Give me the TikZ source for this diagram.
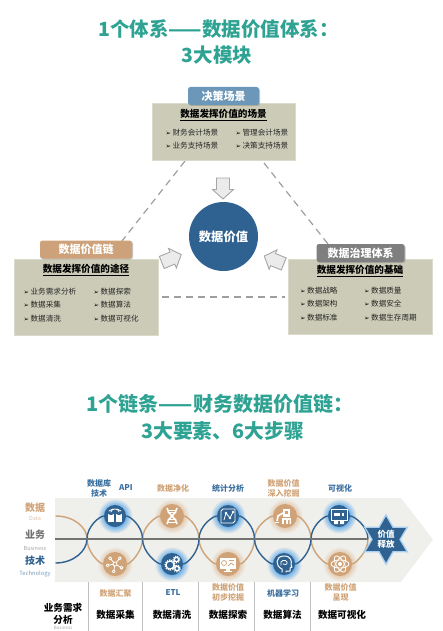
\documentclass[tikz,border=0pt]{standalone}
\usepackage{fontspec}
\setmainfont{Noto Sans CJK SC}
\newfontfamily\dejafont{DejaVu Sans}
\usetikzlibrary{shapes.geometric,shadows}
\definecolor{teal1}{HTML}{2FA393}
\definecolor{boxc}{HTML}{CBCBB7}
\definecolor{tagb}{HTML}{6C97B8}
\definecolor{tagt}{HTML}{CDA27A}
\definecolor{tagg}{HTML}{7F7F7F}
\definecolor{navy1}{HTML}{2F6290}
\definecolor{tan1}{HTML}{CFA377}
\definecolor{tan2}{HTML}{DDBFA2}
\definecolor{band}{HTML}{EFEFEB}
\definecolor{glowb}{HTML}{6FB0E8}
\definecolor{glowt}{HTML}{E2C5A8}
\definecolor{bluetxt}{HTML}{3A6F9E}
\pgfdeclareradialshading{blueglow}{\pgfpoint{0bp}{0bp}}{color(0bp)=(glowb); color(15bp)=(glowb); color(25bp)=(band); color(50bp)=(band)}
\pgfdeclareradialshading{tanglow}{\pgfpoint{0bp}{0bp}}{color(0bp)=(glowt); color(15bp)=(glowt); color(25bp)=(band); color(50bp)=(band)}
\pgfdeclarelayer{bg}
\pgfsetlayers{bg,main}
\newcommand{\itm}[1]{{\dejafont\fontsize{6.5}{7}\selectfont\color{black}➢}\hspace{1.5pt}#1}
\tikzset{
 titletxt/.style={text=teal1,font=\bfseries\fontsize{19.5}{23}\selectfont,inner sep=0},
 infobox/.style={fill=boxc,draw=boxc!70!white,line width=.4pt,minimum width=#1,inner sep=0},
 tagbox/.style={rounded corners=2.5pt,text=white,font=\bfseries\fontsize{11}{13}\selectfont,inner sep=0,drop shadow={opacity=.45,shadow xshift=1pt,shadow yshift=-1pt}},
 boxhead/.style={text=black,font=\bfseries\fontsize{9.6}{11}\selectfont,inner sep=0},
 itemtxt/.style={text=black!85,font=\fontsize{7.6}{9}\selectfont,inner sep=0,anchor=west},
 guide/.style={draw=black!38,line width=1.2pt,dash pattern=on 7pt off 5pt},
 flowarrow/.style={draw=black!35,fill=black!8,line width=.9pt,line join=miter},
 bicon/.style={circle,fill=navy1,minimum size=22pt,inner sep=0},
 ticon/.style={circle,fill=tan1,minimum size=24pt,inner sep=0},
 wave/.style={line width=1.4pt},
 toplab/.style={font=\fontsize{8}{10}\selectfont\bfseries,inner sep=0,align=center},
 steplab/.style={font=\fontsize{9.6}{12}\selectfont\bfseries,text=black,inner sep=0,align=center},
 ic/.style={draw=white,line width=.8pt,line cap=round,line join=round},
 sepline/.style={draw=black!25,line width=1pt}
}
\newcommand{\fatarrow}{(-10.5,-6.5) -- (1,-6.5) -- (1,-10.5) -- (10.5,0) -- (1,10.5) -- (1,6.5) -- (-10.5,6.5) -- cycle}
\begin{document}
\begin{tikzpicture}[x=1pt,y=-1pt]
\useasboundingbox (0,0) rectangle (442,631);
% titles
\node[titletxt] (t1) at (218.5,29) {1个体系——数据价值体系：};
\node[titletxt] (t2) at (217,55) {3大模块};
\node[titletxt,font=\bfseries\fontsize{20}{23}\selectfont] (t3) at (220,404) {1个链条——财务数据价值链：};
\node[titletxt,font=\bfseries\fontsize{19.8}{23}\selectfont] (t4) at (222.5,431) {3大要素、6大步骤};
% dashes
\coordinate (dA) at (185,161);
\coordinate (dB) at (122,241);
\coordinate (dC) at (264,163);
\coordinate (dD) at (328,244);
\coordinate (dE) at (162,297);
\coordinate (dF) at (285,297);
\draw[guide] (dA) -- (dB);
\draw[guide] (dC) -- (dD);
\draw[guide] (dE) -- (dF);
% top box
\node[infobox=143.5pt,minimum height=57pt] (bt) at (223.5,131.5) {};
\node[tagbox,fill=tagb,minimum width=71pt,minimum height=18pt] (tt) at (223.5,96) {决策场景};
\node[boxhead] (ht) at (223.5,115) {\underline{数据发挥价值的场景}};
\node[itemtxt] (it1) at (165.5,133) {\itm{财务会计场景}};
\node[itemtxt] (it2) at (235.5,133) {\itm{管理会计场景}};
\node[itemtxt] (it3) at (165.5,146) {\itm{业务支持场景}};
\node[itemtxt] (it4) at (235.5,146) {\itm{决策支持场景}};
% left box
\node[infobox=144pt,minimum height=76pt] (bl) at (86,297) {};
\node[tagbox,fill=tagt,minimum width=92pt,minimum height=18pt] (tl) at (86,249.5) {数据价值链};
\node[boxhead] (hl) at (86,270) {\underline{数据发挥价值的途径}};
\node[itemtxt] (il1) at (23.5,291.5) {\itm{业务需求分析}};
\node[itemtxt] (il2) at (93.5,291.5) {\itm{数据探索}};
\node[itemtxt] (il3) at (23.5,305) {\itm{数据采集}};
\node[itemtxt] (il4) at (93.5,305) {\itm{数据算法}};
\node[itemtxt] (il5) at (23.5,318.5) {\itm{数据清洗}};
\node[itemtxt] (il6) at (93.5,318.5) {\itm{数据可视化}};
% right box
\node[infobox=144pt,minimum height=75pt] (br) at (360,296.5) {};
\node[tagbox,fill=tagg,minimum width=88pt,minimum height=18pt] (tr) at (360.5,253) {数据治理体系};
\node[boxhead] (hr) at (360,271) {\underline{数据发挥价值的基础}};
\node[itemtxt] (ir1) at (300,291) {\itm{数据战略}};
\node[itemtxt] (ir2) at (364,291) {\itm{数据质量}};
\node[itemtxt] (ir3) at (300,304) {\itm{数据架构}};
\node[itemtxt] (ir4) at (364,304) {\itm{数据安全}};
\node[itemtxt] (ir5) at (300,318) {\itm{数据标准}};
\node[itemtxt] (ir6) at (364,318) {\itm{数据生存周期}};
% centre
\node[circle,fill=navy1,minimum size=69pt,inner sep=0,text=white,font=\bfseries\fontsize{12.3}{14}\selectfont] (core) at (223.5,236.5) {数据价值};
\begin{scope}[shift={(223,188.5)},rotate=-90]
\draw[flowarrow] \fatarrow;
\end{scope}
\begin{scope}[shift={(171.5,258.5)},rotate=22]
\draw[flowarrow] \fatarrow;
\end{scope}
\begin{scope}[shift={(274,260)},rotate=158]
\draw[flowarrow] \fatarrow;
\end{scope}
% left labels
\node[text=tan1,font=\bfseries\fontsize{10}{12}\selectfont,inner sep=0] (l1) at (35,508) {数据};
\node[text=tan2,font=\fontsize{5.5}{6}\selectfont,inner sep=0] (l1e) at (35,518.5) {Data};
\node[text=black!55,font=\bfseries\fontsize{10}{12}\selectfont,inner sep=0] (l2) at (35,535) {业务};
\node[text=black!35,font=\fontsize{5.5}{6}\selectfont,inner sep=0] (l2e) at (35,548.5) {Business};
\node[text=navy1,font=\bfseries\fontsize{10}{12}\selectfont,inner sep=0] (l3) at (35,561) {技术};
\node[text=bluetxt!70,font=\fontsize{5.8}{6}\selectfont,inner sep=0] (l3e) at (35,574) {Technology};
% icon nodes
\node[bicon] (u1) at (115,516) {};
\node[ticon] (u2) at (172,516) {};
\node[bicon] (u3) at (228,516) {};
\node[ticon] (u4) at (285,516) {};
\node[bicon] (u5) at (339,516) {};
\node[ticon] (d1) at (115,564) {};
\node[bicon] (d2) at (172,564) {};
\node[ticon] (d3) at (228,564) {};
\node[bicon] (d4) at (284,564) {};
\node[ticon] (d5) at (340,564) {};
\coordinate (c1) at (87,539);
\coordinate (c2) at (142.5,539);
\coordinate (c3) at (199,539);
\coordinate (c4) at (254.5,539);
\coordinate (c5) at (311,539);
\coordinate (c6) at (368,539);
\coordinate (eb) at (55.5,563);
\coordinate (et) at (55.5,516);
\coordinate (ls) at (55,539);
\begin{pgfonlayer}{bg}
\fill[band] (55,498) -- (401,498) -- (433,539.5) -- (401,582) -- (55,582) -- cycle;
\foreach \n in {u1,u3,u5,d2,d4} {\shade[shading=blueglow] (\n) circle (17.5pt);}
\foreach \n in {u2,u4,d1,d3,d5} {\shade[shading=tanglow] (\n) circle (17.5pt);}
% tan strand
\draw[wave,tan1] (et) .. controls +(18,0) and +(0,-12) .. (c1);
\draw[wave,tan1] (c1) .. controls +(0,13) and +(-15,0) .. (d1);
\draw[wave,tan1] (d1) .. controls +(15,0) and +(0,13) .. (c2);
\draw[wave,tan1] (c2) .. controls +(0,-13) and +(-15,0) .. (u2);
\draw[wave,tan1] (u2) .. controls +(15,0) and +(0,-13) .. (c3);
\draw[wave,tan1] (c3) .. controls +(0,13) and +(-15,0) .. (d3);
\draw[wave,tan1] (d3) .. controls +(15,0) and +(0,13) .. (c4);
\draw[wave,tan1] (c4) .. controls +(0,-13) and +(-15,0) .. (u4);
\draw[wave,tan1] (u4) .. controls +(15,0) and +(0,-13) .. (c5);
\draw[wave,tan1] (c5) .. controls +(0,13) and +(-15,0) .. (d5);
\draw[wave,tan1] (d5) .. controls +(15,0) and +(0,13) .. (c6);
% blue strand
\draw[wave,navy1] (eb) .. controls +(18,0) and +(0,12) .. (c1);
\draw[wave,navy1] (c1) .. controls +(0,-13) and +(-15,0) .. (u1);
\draw[wave,navy1] (u1) .. controls +(15,0) and +(0,-13) .. (c2);
\draw[wave,navy1] (c2) .. controls +(0,13) and +(-15,0) .. (d2);
\draw[wave,navy1] (d2) .. controls +(15,0) and +(0,13) .. (c3);
\draw[wave,navy1] (c3) .. controls +(0,-13) and +(-15,0) .. (u3);
\draw[wave,navy1] (u3) .. controls +(15,0) and +(0,-13) .. (c4);
\draw[wave,navy1] (c4) .. controls +(0,13) and +(-15,0) .. (d4);
\draw[wave,navy1] (d4) .. controls +(15,0) and +(0,13) .. (c5);
\draw[wave,navy1] (c5) .. controls +(0,-13) and +(-15,0) .. (u5);
\draw[wave,navy1] (u5) .. controls +(15,0) and +(0,-13) .. (c6);
\draw[black!55,line width=2pt] (ls) -- (c6);
\end{pgfonlayer}
% star
\node[star,star points=6,star point ratio=1.75,minimum size=50pt,inner sep=0,fill=glowb!60,draw=glowb!60,line width=1pt] (sg) at (386,539.5) {};
\node[star,star points=6,star point ratio=1.75,minimum size=46pt,inner sep=0,fill=navy1,text=white] (st) at (386,539.5) {};
\node[text=white,font=\bfseries\fontsize{8.5}{10.5}\selectfont,align=center,inner sep=0] (stx) at (386,539.5) {价值\\释放};
% icons
\begin{scope}[shift={(u1)}]
\fill[white] (-7,-2) rectangle (-1,6); \fill[white] (1,-2) rectangle (7,6);
\fill[navy1] (-4,-2) ellipse (2 and 1); \fill[navy1] (4,-2) ellipse (2 and 1);
\draw[ic] (-4,-4) .. controls (-4,-8) and (4,-8) .. (4,-4);
\draw[ic] (-6,-5) -- (-2,-7); \draw[ic] (6,-5) -- (2,-7);
\end{scope}
\begin{scope}[shift={(d1)}]
\draw[ic] (0,0) circle (2);
\foreach \a in {30,100,170,230,310} {\draw[ic] (\a:2) -- (\a:6); \draw[ic] (\a:7.5) circle (1.5);}
\end{scope}
\begin{scope}[shift={(u2)}]
\draw[white,line width=1.6pt] (-5,-8) .. controls (-5,-2) and (5,2) .. (5,8);
\draw[white,line width=1.6pt] (5,-8) .. controls (5,-2) and (-5,2) .. (-5,8);
\foreach \y in {-6,-3.5,3.5,6} {\draw[ic] (-4,\y) -- (4,\y);}
\end{scope}
\begin{scope}[shift={(d2)}]
\foreach \p/\r in {{(-2,1)}/4,{(4.5,-4.5)}/2.2,{(5,4.5)}/2.2} {
 \draw[white,line width=1.2pt] \p circle (\r);
 \draw[white,line width=1.4pt,dash pattern=on 1.1pt off 1.1pt] \p circle (\r+1);
}
\end{scope}
\begin{scope}[shift={(u3)}]
\draw[ic] (-7,-5) -- (-5,-7) -- (7,-7) -- (7,5) -- (5,7) -- (-7,7) -- cycle;
\draw[ic] (-4,4) -- (-2,-3) -- (2,2) -- (5,-4);
\fill[white] (-2,-3) circle (1.3) (2,2) circle (1.3) (5,-4) circle (1.3);
\end{scope}
\begin{scope}[shift={(d3)}]
\fill[white] (-8,-6) rectangle (8,5);
\fill[white] (-2,5) rectangle (2,7); \fill[white] (-4,7) rectangle (4,8);
\draw[tan1,line width=.7pt] (-4,-1) circle (2.5);
\draw[tan1,line width=.7pt] (0,2) -- (3,-1) -- (6,1);
\draw[tan1,line width=.7pt] (1,-4) -- (6,-4);
\end{scope}
\begin{scope}[shift={(u4)}]
\fill[white] (-2,-7) rectangle (5,1);
\fill[tan1] (0,-5) rectangle (3,-2);
\fill[white] (-3,2) rectangle (6,8);
\fill[tan1] (-1,4) rectangle (1,8) (3,4) rectangle (4.5,8);
\draw[white,line width=1.6pt] (-2,-3) -- (-7,0) -- (-8,5);
\draw[white,line width=1pt] (-10,6) -- (-6,6);
\end{scope}
\begin{scope}[shift={(d4)}]
\draw[ic,line width=1pt] (-2,8) -- (-2,5) .. controls (-9,2) and (-9,-8) .. (0,-8) .. controls (7,-8) and (8,-3) .. (7,1) -- (8,3) -- (6,4) -- (6,7) -- (2,7) -- (2,8);
\draw[ic] (-3,1) .. controls (-5,-4) and (2,-5) .. (3,-2) .. controls (4,1) and (0,1) .. (-1,0);
\end{scope}
\begin{scope}[shift={(u5)}]
\draw[ic,line width=1pt,fill=navy1] (-8,-7) rectangle (8,4);
\fill[white] (-5,-3) rectangle (5,0);
\fill[navy1] (1,-3) rectangle (3,0);
\fill[white] (-5,5) rectangle (-1,8) (1,5) rectangle (5,8);
\end{scope}
\begin{scope}[shift={(d5)}]
\foreach \a in {0,60,120} {\draw[ic,rotate=\a] (0,0) ellipse (9 and 4);}
\fill[white] (0,0) circle (2);
\end{scope}
% top labels
\node[toplab,text=bluetxt] (a01) at (99,488) {数据库\\技术};
\node[toplab,text=bluetxt] (a02) at (126,488) {API};
\node[toplab,text=tan1] (a03) at (173,488) {数据净化};
\node[toplab,text=bluetxt] (a04) at (228,488) {统计分析};
\node[toplab,text=tan1] (a05) at (283.5,488) {数据价值\\深入挖掘};
\node[toplab,text=bluetxt] (a06) at (340,488) {可视化};
% lower separators
\coordinate (s1a) at (88.5,582); \coordinate (s1b) at (88.5,631);
\coordinate (s2a) at (142,582); \coordinate (s2b) at (142,631);
\coordinate (s3a) at (198,582); \coordinate (s3b) at (198,631);
\coordinate (s4a) at (254,582); \coordinate (s4b) at (254,631);
\coordinate (s5a) at (310,582); \coordinate (s5b) at (310,631);
\draw[sepline] (s1a) -- (s1b);
\draw[sepline] (s2a) -- (s2b);
\draw[sepline] (s3a) -- (s3b);
\draw[sepline] (s4a) -- (s4b);
\draw[sepline] (s5a) -- (s5b);
% lower labels
\node[toplab,text=tan1] (b01) at (115.5,593) {数据汇聚};
\node[toplab,text=bluetxt] (b02) at (173,593) {ETL};
\node[toplab,text=tan1] (b03) at (228,592) {数据价值\\初步挖掘};
\node[toplab,text=bluetxt] (b04) at (283,593) {机器学习};
\node[toplab,text=tan1] (b05) at (340.5,592) {数据价值\\呈现};
\node[steplab] (s0) at (63,614) {业务需求\\分析};
\node[steplab] (s1) at (115.5,614.5) {数据采集};
\node[steplab] (s2) at (172,614.5) {数据清洗};
\node[steplab] (s3) at (228,614.5) {数据探索};
\node[steplab] (s4) at (282.5,615) {数据算法};
\node[steplab] (s5) at (342,614.5) {数据可视化};
\node[text=black!35,font=\fontsize{4.5}{5}\selectfont,inner sep=0] (s0e) at (63,627.5) {Business};
\end{tikzpicture}
\end{document}
